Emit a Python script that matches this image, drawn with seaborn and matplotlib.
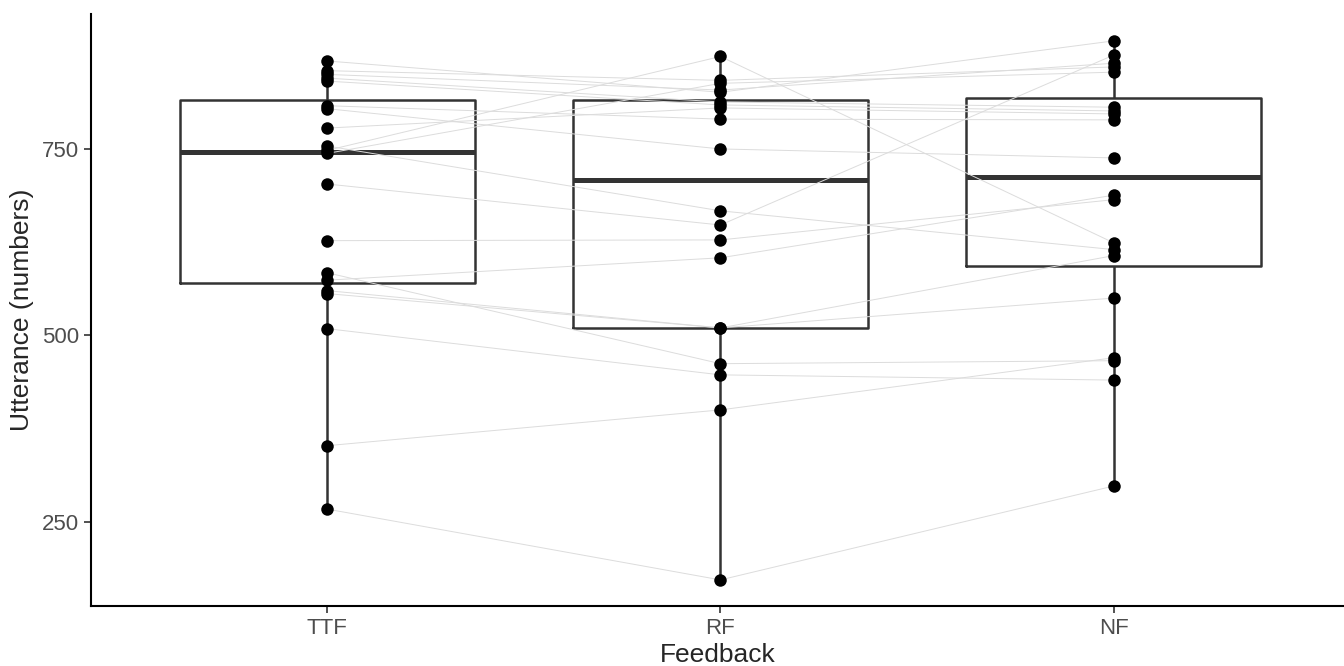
import pandas as pd
import matplotlib
matplotlib.use("Agg")
import matplotlib.pyplot as plt
import seaborn as sns

# Values per subject (one entry per participant)
conditions = ["TTF", "RF", "NF"]
ttf_values = [267, 352, 509, 584, 574, 560, 556, 627, 703, 748,
              754, 744, 778, 808, 804, 868, 855, 850, 845, 841]
rf_values = [172, 400, 447, 462, 604, 510, 510, 628, 648, 874,
             667, 838, 805, 790, 750, 826, 842, 829, 813, 809]
nf_values = [298, 470, 440, 466, 688, 607, 550, 682, 876, 624,
             615, 853, 797, 789, 738, 895, 860, 865, 806, 801]
y_ticks = [250, 500, 750]


def build_long_frame():
    """
    Put the three conditions in one long table.
    """
    frames = []
    for pos, (cond, vals) in enumerate(zip(conditions,
                                           [ttf_values, rf_values, nf_values])):
        frames.append(pd.DataFrame({
            "subject": range(len(vals)),
            "Feedback": cond,
            "pos": pos,
            "value": vals,
        }))
    df = pd.concat(frames, ignore_index=True)
    df["Feedback"] = pd.Categorical(df["Feedback"], categories=conditions)
    return df


def main():
    df = build_long_frame()

    sns.set_style("ticks")
    plt.rcParams["font.family"] = ["Liberation Sans", "DejaVu Sans"]

    fig = plt.figure(figsize=(13.44, 6.66), dpi=100)
    ax = fig.add_axes([91 / 1344, 60 / 666, 1253 / 1344, 592 / 666])

    # Box plot without fill, caps or fliers (ggplot-like)
    sns.boxplot(data=df, x="Feedback", y="value", order=conditions,
                width=0.75, fill=False, color="#333333", linewidth=1.8,
                fliersize=0, showcaps=False,
                medianprops={"linewidth": 3.6, "color": "#333333"},
                ax=ax, zorder=2)

    # Per-subject connecting lines
    sns.lineplot(data=df, x="pos", y="value", units="subject",
                 estimator=None, color="#dcdcdc", linewidth=0.7,
                 ax=ax, zorder=3, legend=False)

    # Individual points
    sns.stripplot(data=df, x="Feedback", y="value", order=conditions,
                  jitter=False, color="black", size=9,
                  ax=ax, zorder=4)

    ax.set_xlim(-0.6, 2.585)
    ax.set_ylim(137, 931)
    ax.set_yticks(y_ticks)

    for side in ["top", "right"]:
        ax.spines[side].set_visible(False)
    for side in ["left", "bottom"]:
        ax.spines[side].set_linewidth(1.5)
        ax.spines[side].set_color("black")

    ax.tick_params(axis="both", labelsize=16, colors="#333333",
                   labelcolor="#4d4d4d", length=5, width=1.2)
    ax.set_xlabel("Feedback", fontsize=19, labelpad=3)
    ax.set_ylabel("Utterance (numbers)", fontsize=19, labelpad=6)

    fig.savefig("out.png", dpi=100)


if __name__ == "__main__":
    main()
